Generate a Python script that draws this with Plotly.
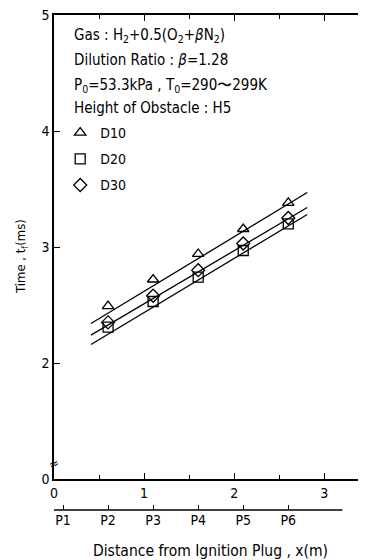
import plotly.graph_objects as go

# ---- data ----
positions = [0.1, 0.6, 1.1, 1.6, 2.1, 2.6]
position_labels = ["P1", "P2", "P3", "P4", "P5", "P6"]
x_meas = [0.6, 1.1, 1.6, 2.1, 2.6]
t_D10 = [2.49, 2.72, 2.94, 3.155, 3.38]
t_D20 = [2.31, 2.53, 2.74, 2.97, 3.20]
t_D30 = [2.35, 2.58, 2.80, 3.03, 3.25]
fit_x = [0.41, 2.81]
fit_D10 = [2.34, 3.47]
fit_D30 = [2.24, 3.34]
fit_D20 = [2.16, 3.28]
x_tickvals = [0, 1, 2, 3]
x_minor = [0.5, 1.5, 2.5]
y_tickvals = [1, 2, 3, 4, 5]
y_ticktext = ["0", "2", "3", "4", "5"]

FONT = "DejaVu Sans Condensed, Liberation Sans Narrow, Arial Narrow, sans-serif"
BLACK = "black"

fig = go.Figure()

series = [("D10", t_D10, "triangle-up-open"),
          ("D20", t_D20, "square-open"),
          ("D30", t_D30, "diamond-open")]
for name, ys, sym in series:
    fig.add_trace(go.Scatter(
        x=x_meas, y=ys, mode="markers", name=name, legendgroup=name,
        marker=dict(symbol=sym, size=10, color=BLACK, line=dict(width=1.3, color=BLACK)),
    ))

for ys in (fit_D10, fit_D30, fit_D20):
    fig.add_trace(go.Scatter(x=fit_x, y=ys, mode="lines", showlegend=False,
                             line=dict(color=BLACK, width=1.3), hoverinfo="skip"))

# empty traces so the extra axes are registered
fig.add_trace(go.Scatter(x=[], y=[], xaxis="x2", yaxis="y", showlegend=False))
fig.add_trace(go.Scatter(x=[], y=[], xaxis="x", yaxis="y2", showlegend=False))

P_AXIS_POS = 0.0198
Y_DOMAIN0 = 0.0812

# the page body adds an 8px offset, so the figure is 8px smaller on each side
fig.update_layout(
    width=358, height=552,
    margin=dict(l=46, r=2, t=7, b=40, autoexpand=False),
    paper_bgcolor="white", plot_bgcolor="white",
    font=dict(family=FONT, size=14, color=BLACK),
    xaxis=dict(range=[0, 3.44], domain=[0, 1], anchor="y", automargin=False,
               showline=True, linecolor=BLACK, linewidth=1.5, mirror="ticks",
               ticks="inside", ticklen=6, tickwidth=1.3, tickcolor=BLACK,
               tickvals=x_tickvals, showgrid=False, zeroline=False,
               ticklabeloverflow="allow",
               minor=dict(tickvals=x_minor, ticks="inside", ticklen=4, tickcolor=BLACK, showgrid=False),
               tickfont=dict(size=14)),
    yaxis=dict(range=[1, 5], domain=[Y_DOMAIN0, 1], anchor="x", automargin=False,
               showline=True, linecolor=BLACK, linewidth=1.5,
               ticks="inside", ticklen=6, tickwidth=1.3, tickcolor=BLACK,
               tickvals=y_tickvals, ticktext=y_ticktext, ticklabeloverflow="allow",
               showgrid=False, zeroline=False, tickfont=dict(size=14)),
    yaxis2=dict(range=[1, 5], overlaying="y", side="right", anchor="x", automargin=False,
                showline=False, ticks="inside", ticklen=6, tickwidth=1.3, tickcolor=BLACK,
                tickvals=y_tickvals[1:4], showticklabels=False,
                showgrid=False, zeroline=False),
    xaxis2=dict(range=[0, 3.44], overlaying="x", anchor="free", position=P_AXIS_POS,
                automargin=False, ticklabeloverflow="allow",
                side="bottom", showline=False, ticks="inside", ticklen=5, tickwidth=1.3,
                tickcolor=BLACK, tickvals=positions, ticktext=position_labels,
                showgrid=False, zeroline=False, tickfont=dict(size=14)),
    legend=dict(x=0.02, y=0.798, xanchor="left", yanchor="top",
                bgcolor="rgba(0,0,0,0)", font=dict(size=14), tracegroupgap=5,
                itemwidth=30),
    showlegend=True,
)

fig.add_shape(type="line", xref="x", yref="paper", x0=0, x1=3.2,
              y0=P_AXIS_POS, y1=P_AXIS_POS, line=dict(color=BLACK, width=1.5))

text_lines = [
    ("Gas : H<sub>2</sub>+0.5(O<sub>2</sub>+<i>β</i>N<sub>2</sub>)", 0.960),
    ("Dilution Ratio : <i>β</i>=1.28", 0.911),
    ("P<sub>0</sub>=53.3kPa , T<sub>0</sub>=290〜299K", 0.861),
    ("Height of Obstacle : H5", 0.816),
]
for txt, yy in text_lines:
    fig.add_annotation(text=txt, xref="paper", yref="paper", x=0.058, y=yy,
                       xanchor="left", yanchor="middle", showarrow=False,
                       font=dict(size=15))

fig.add_annotation(text="Distance from Ignition Plug , x(m)", xref="paper", yref="paper",
                   x=0.506, y=-0.061, xanchor="center", yanchor="middle",
                   showarrow=False, font=dict(size=15.5))
fig.add_annotation(text="Time , t<sub>f</sub>(ms)", xref="paper", yref="paper",
                   x=-0.103, y=0.521, xanchor="center", yanchor="middle",
                   textangle=-90, showarrow=False, font=dict(size=13))
# axis break mark
fig.add_annotation(text="≈", xref="x", yref="y", x=0, y=1.13, showarrow=False,
                   font=dict(size=13), textangle=-20)

fig.write_html("out.html")
